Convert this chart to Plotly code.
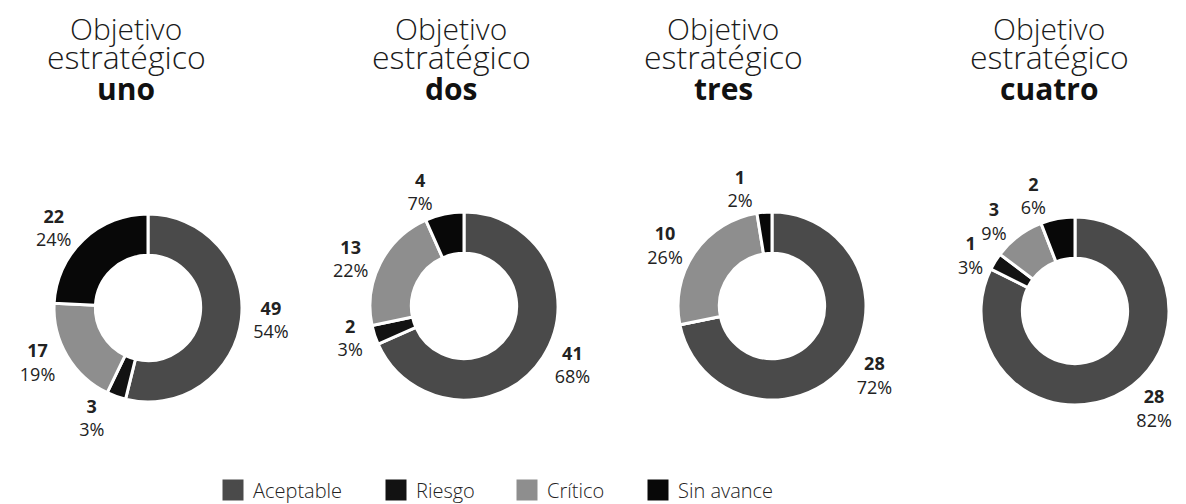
import plotly.graph_objects as go

# ---- data ----
categories = ["Aceptable", "Riesgo", "Crítico", "Sin avance"]
objetivos = ["uno", "dos", "tres", "cuatro"]
values_uno = [49, 3, 17, 22]
values_dos = [41, 2, 13, 4]
values_tres = [28, 0, 10, 1]
values_cuatro = [28, 1, 3, 2]
pct_uno = ["54%", "3%", "19%", "24%"]
pct_dos = ["68%", "3%", "22%", "7%"]
pct_tres = ["72%", "", "26%", "2%"]
pct_cuatro = ["82%", "3%", "9%", "6%"]

values_all = [values_uno, values_dos, values_tres, values_cuatro]
pct_all = [pct_uno, pct_dos, pct_tres, pct_cuatro]

# ---- style / layout ----
colors = ["#4a4a4a", "#121212", "#8e8e8e", "#080808"]
W, H = 1186, 504
centers_x = [140, 456, 764, 1067]
centers_y = [300, 298, 298, 303]
radius = 94
title_x = [118, 443, 715, 1041]
legend_x = [205, 368, 499, 630]
FONT = "Open Sans"

fig = go.Figure()

for i, (vals, pcts) in enumerate(zip(values_all, pct_all)):
    cx, cy = centers_x[i], centers_y[i]
    domain = dict(x=[(cx - radius) / W, (cx + radius) / W],
                  y=[1 - (cy + radius) / H, 1 - (cy - radius) / H])
    # visible ring
    fig.add_trace(go.Pie(
        labels=categories, values=vals, textinfo="none",
        hole=0.56, sort=False, direction="clockwise", rotation=0,
        marker=dict(colors=colors, line=dict(color="white", width=3)),
        domain=domain, showlegend=False, hoverinfo="label+value",
    ))
    # one transparent overlay per slice, carrying that slice's outside label
    for j in range(len(categories)):
        texts = [""] * len(categories)
        if vals[j] > 0:
            texts[j] = f"<b>{vals[j]}</b><br>{pcts[j]}"
        fig.add_trace(go.Pie(
            labels=categories, values=vals, text=texts, textinfo="text",
            textposition="outside", hole=0.56, sort=False,
            direction="clockwise", rotation=0,
            marker=dict(colors=["rgba(0,0,0,0)"] * len(categories),
                        line=dict(color="rgba(0,0,0,0)", width=0)),
            outsidetextfont=dict(family=FONT, size=18, color="#222222"),
            domain=domain, showlegend=False, hoverinfo="skip",
        ))

# legend entries, one legend each so they can be spaced like the original
legend_names = ["legend", "legend2", "legend3", "legend4"]
for cat, col, lg in zip(categories, colors, legend_names):
    fig.add_trace(go.Scatter(
        x=[None], y=[None], mode="markers", name=cat, legend=lg,
        marker=dict(symbol="square", size=16, color=col, line=dict(color=col, width=5)),
        showlegend=True,
    ))

annotations = []
for i, name in enumerate(objetivos):
    xp = title_x[i] / W
    annotations.append(dict(x=xp, y=1 - 21 / H, xref="paper", yref="paper", text="Objetivo",
                            showarrow=False, xanchor="center", yanchor="middle",
                            font=dict(family=FONT, size=30, color="#1a1a1a", weight=300)))
    annotations.append(dict(x=xp, y=1 - 49 / H, xref="paper", yref="paper", text="estratégico",
                            showarrow=False, xanchor="center", yanchor="middle",
                            font=dict(family=FONT, size=32, color="#1a1a1a", weight=300)))
    annotations.append(dict(x=xp, y=1 - 81 / H, xref="paper", yref="paper", text=f"<b>{name}</b>",
                            showarrow=False, xanchor="center", yanchor="middle",
                            font=dict(family=FONT, size=30, color="#111111")))

legend_style = dict(orientation="h", xanchor="left", y=0.005, yanchor="bottom",
                    font=dict(family=FONT, size=20, color="#222222", weight=300),
                    itemclick=False, bgcolor="rgba(0,0,0,0)")
layout_legends = {}
for lg, lx in zip(legend_names, legend_x):
    layout_legends[lg] = dict(legend_style, x=lx / W)

fig.update_layout(
    width=W, height=H,
    margin=dict(l=0, r=0, t=0, b=0),
    paper_bgcolor="white", plot_bgcolor="white",
    xaxis=dict(visible=False), yaxis=dict(visible=False),
    annotations=annotations,
    **layout_legends,
)

fig.write_html("out.html")
